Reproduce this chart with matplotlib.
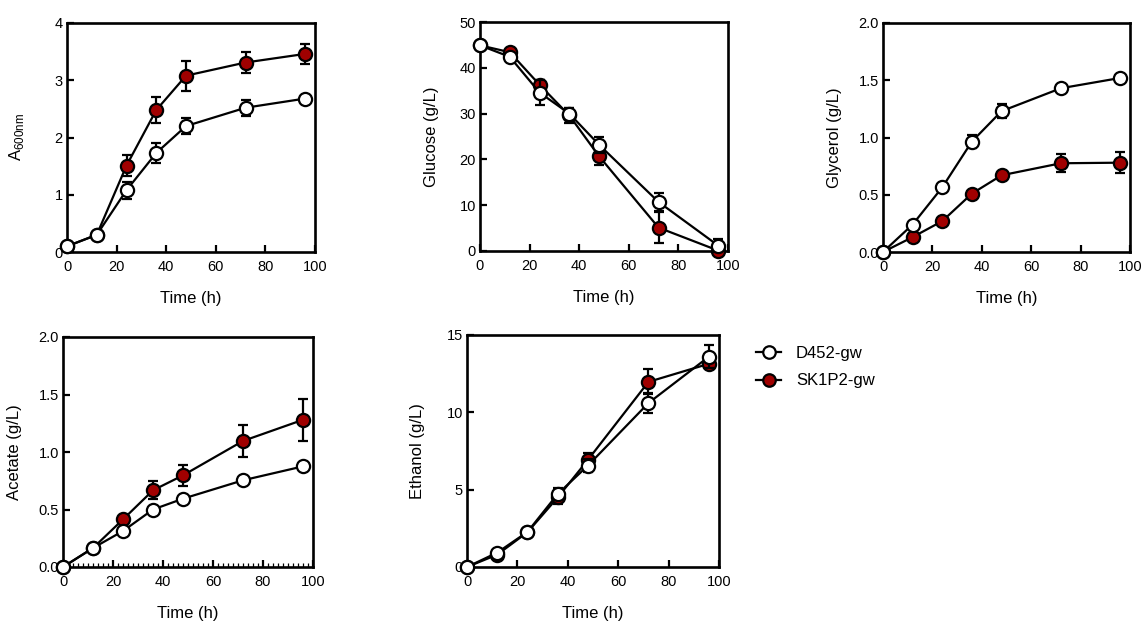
import matplotlib
matplotlib.use("Agg")
import matplotlib.pyplot as plt
from matplotlib.ticker import MultipleLocator, FormatStrFormatter
from matplotlib.lines import Line2D

plt.rcParams['font.family'] = ['Liberation Sans', 'DejaVu Sans']

time = [0, 12, 24, 36, 48, 72, 96]

d452_od = [0.10, 0.30, 1.08, 1.73, 2.20, 2.52, 2.68]
d452_od_err = [0, 0, 0.15, 0.17, 0.14, 0.14, 0]
sk_od = [0.10, 0.30, 1.51, 2.48, 3.08, 3.31, 3.46]
sk_od_err = [0, 0, 0.18, 0.22, 0.26, 0.18, 0.18]

d452_glc = [44.9, 42.4, 34.6, 30.0, 23.2, 10.7, 1.2]
d452_glc_err = [0, 0, 2.7, 1.3, 1.7, 2.0, 1.5]
sk_glc = [44.9, 43.4, 36.3, 29.6, 20.7, 5.1, 0.1]
sk_glc_err = [0, 0, 1.0, 1.6, 2.0, 3.4, 0]

d452_gly = [0, 0.24, 0.565, 0.965, 1.23, 1.43, 1.52]
d452_gly_err = [0, 0, 0, 0.06, 0.06, 0, 0]
sk_gly = [0, 0.13, 0.27, 0.51, 0.67, 0.775, 0.78]
sk_gly_err = [0, 0, 0, 0, 0, 0.08, 0.09]

d452_ace = [0, 0.165, 0.313, 0.50, 0.594, 0.754, 0.875]
d452_ace_err = [0, 0, 0, 0, 0, 0, 0]
sk_ace = [0, 0.165, 0.414, 0.667, 0.797, 1.096, 1.28]
sk_ace_err = [0, 0, 0, 0.08, 0.09, 0.14, 0.18]

d452_eth = [0, 0.93, 2.27, 4.72, 6.56, 10.6, 13.6]
d452_eth_err = [0, 0, 0, 0.4, 0.4, 0.65, 0.75]
sk_eth = [0, 0.8, 2.25, 4.5, 6.93, 11.97, 13.14]
sk_eth_err = [0, 0, 0, 0.4, 0.47, 0.8, 0]

labels = ["D452-gw", "SK1P2-gw"]
RED = "#a00000"

W, H = 1146, 623
fig = plt.figure(figsize=(W / 100, H / 100), dpi=100)


def px_axes(l, r, t, b):
    return fig.add_axes([l / W, 1 - b / H, (r - l) / W, (b - t) / H])


panels = [
    ((67, 315, 23, 252), d452_od, d452_od_err, sk_od, sk_od_err, (0, 4), 1, "%d", r"A$_{\mathregular{600nm}}$", False),
    ((480, 728, 22, 251), d452_glc, d452_glc_err, sk_glc, sk_glc_err, (0, 50), 10, "%d", "Glucose (g/L)", False),
    ((883, 1130, 23, 252), d452_gly, d452_gly_err, sk_gly, sk_gly_err, (0, 2), 0.5, "%.1f", "Glycerol (g/L)", False),
    ((63, 313, 337, 567), d452_ace, d452_ace_err, sk_ace, sk_ace_err, (0, 2), 0.5, "%.1f", "Acetate (g/L)", True),
    ((467, 719, 335, 567), d452_eth, d452_eth_err, sk_eth, sk_eth_err, (0, 15), 5, "%d", "Ethanol (g/L)", False),
]

for box, d, de, s, se, ylim, ystep, fmt, ylab, minor in panels:
    ax = px_axes(*box)
    ax.errorbar(time, s, yerr=se, color="black", lw=1.6, elinewidth=1.6, capsize=3.8,
                capthick=1.6, marker="o", ms=9.5, mfc=RED, mec="black", mew=1.6,
                clip_on=False, zorder=3)
    ax.errorbar(time, d, yerr=de, color="black", lw=1.6, elinewidth=1.6, capsize=3.8,
                capthick=1.6, marker="o", ms=9.5, mfc="white", mec="black", mew=1.6,
                clip_on=False, zorder=4)
    ax.set_xlim(0, 100)
    ax.set_ylim(*ylim)
    ax.xaxis.set_major_locator(MultipleLocator(20))
    ax.yaxis.set_major_locator(MultipleLocator(ystep))
    ax.yaxis.set_major_formatter(FormatStrFormatter(fmt))
    if minor:
        ax.xaxis.set_minor_locator(MultipleLocator(2))
        ax.tick_params(axis="x", which="minor", direction="in", length=3.2, width=0.9)
    for sp in ax.spines.values():
        sp.set_linewidth(1.9)
    ax.tick_params(axis="both", which="major", direction="in", length=5, width=1.6,
                   labelsize=10.5)
    ax.tick_params(axis="x", pad=6)
    ax.tick_params(axis="y", pad=3)
    ax.set_xlabel("Time (h)", fontsize=12)
    ax.xaxis.set_label_coords(0.5, -0.17)
    ax.set_ylabel(ylab, fontsize=12)
    ax.yaxis.set_label_coords(-0.165, 0.5)

handles = [
    Line2D([0], [0], color="black", lw=1.6, marker="o", ms=9, mfc="white", mec="black", mew=1.6),
    Line2D([0], [0], color="black", lw=1.6, marker="o", ms=9, mfc=RED, mec="black", mew=1.6),
]
fig.legend(handles, labels, loc="upper left", bbox_to_anchor=(741 / W, 1 - 331 / H),
           frameon=False, fontsize=12, handlelength=1.5, handletextpad=0.9,
           labelspacing=0.75)

fig.savefig("out.png", dpi=100)
